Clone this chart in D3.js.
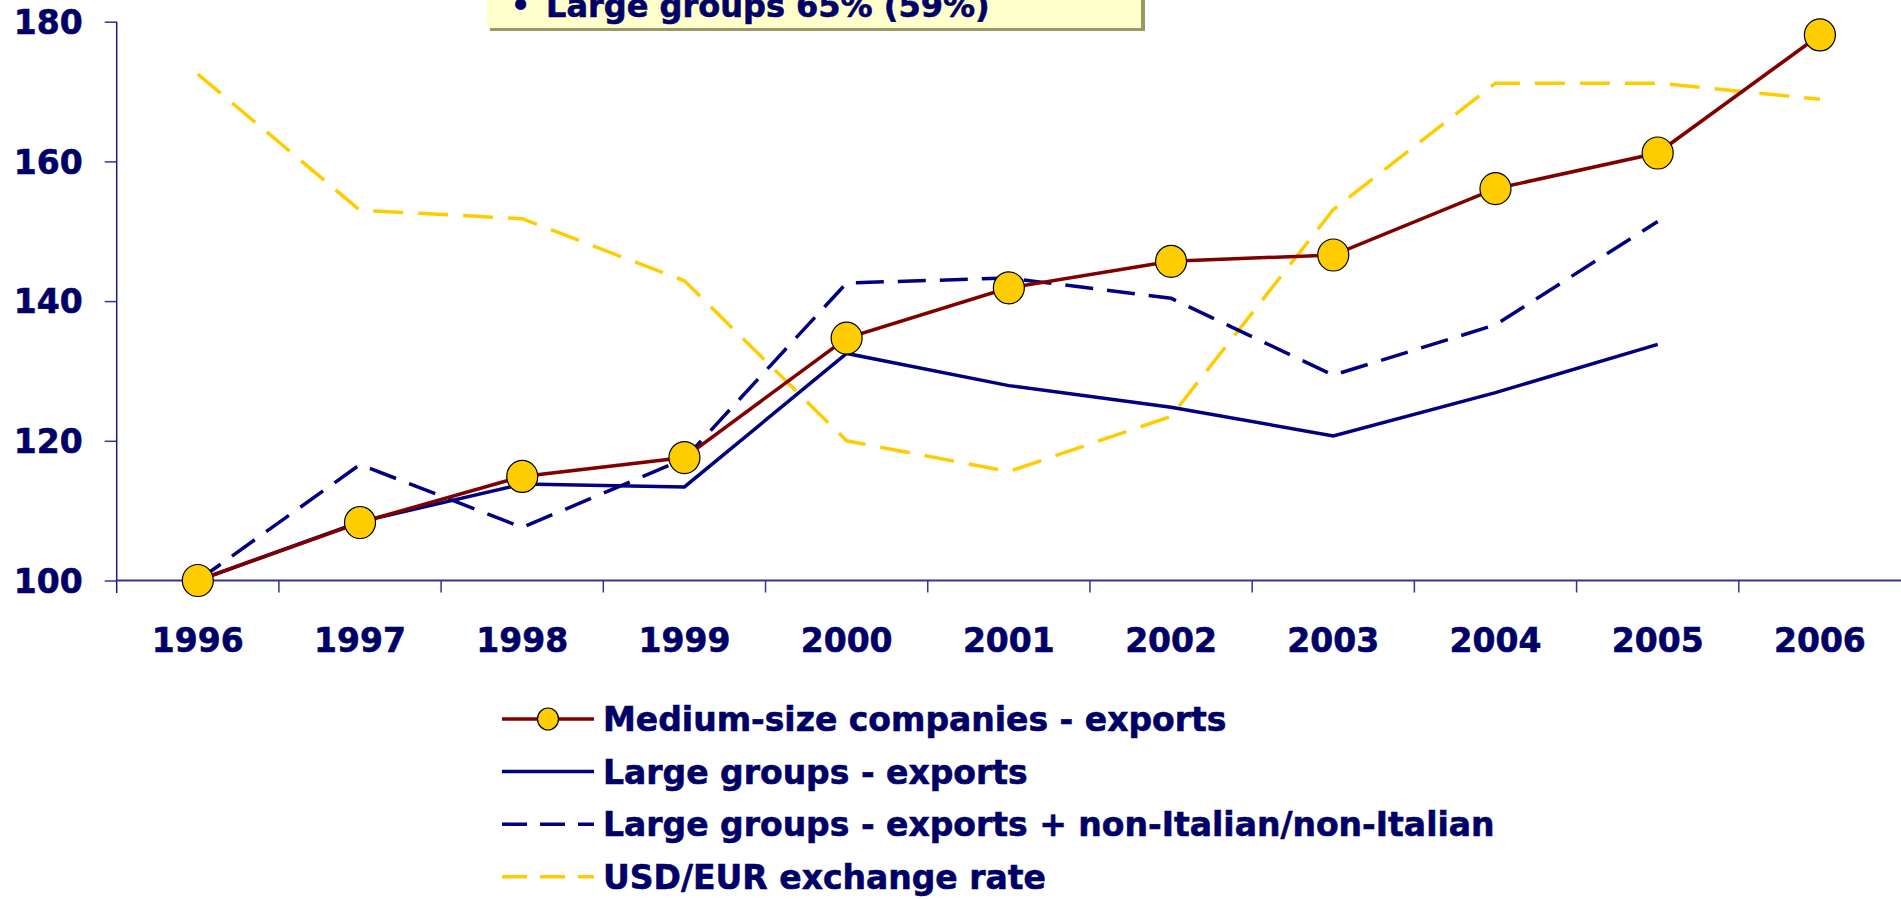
<!DOCTYPE html>
<html>
  <head>
    <meta charset="utf-8">
    <title>Exports index</title>
    <script src="https://cdn.jsdelivr.net/npm/d3@7"></script>
    <style>
      body { margin: 0; background: #fff; overflow: hidden; }
      svg text { font-family: "DejaVu Sans", Verdana, sans-serif; font-weight: bold; fill: #000066; stroke: #000066; stroke-width: 0.6px; }
    </style>
  </head>
  <body>
    <svg id="chart" width="1901" height="899"></svg>

    <script>
      // data
      const years = ["1996", "1997", "1998", "1999", "2000", "2001", "2002", "2003", "2004", "2005", "2006"];
      const medium = [100, 108.3, 114.9, 117.6, 134.7, 141.9, 145.7, 146.6, 156.1, 161.2, 178.1];
      const large = [100, 108.4, 113.8, 113.4, 132.5, 127.9, 124.8, 120.7, 126.9, 133.8];
      const largeNonIt = [100, 116.6, 107.6, 117.4, 142.6, 143.3, 140.4, 129.4, 136.6, 151.4];
      const usdEur = [172.5, 153.0, 151.8, 142.9, 120.0, 115.6, 123.5, 153.1, 171.2, 171.2, 168.9];
      const yTicks = [100, 120, 140, 160, 180];
      const legendLabels = [
        "Medium-size companies - exports",
        "Large groups - exports",
        "Large groups - exports + non-Italian/non-Italian",
        "USD/EUR exchange rate"
      ];
      const noteText = "Large groups 65% (59%)";

      // page elements
      const svg = d3.select("#chart");
      const navy = "#000080", maroon = "#800000", gold = "#ffcc00";

      // scales
      const x = d3.scaleBand().domain(years).range([116.7, 1901]);
      const cx = function(d, i) { return x(years[i]) + x.bandwidth() / 2; };
      const y = d3.scaleLinear().domain([100, 180]).range([580.5, 21.7]);

      // note box cut off at the top
      svg.append("rect")
        .attr("x", 490).attr("y", -60).attr("width", 655).attr("height", 91)
        .attr("fill", "#999966");
      svg.append("rect")
        .attr("x", 487).attr("y", -60).attr("width", 654).attr("height", 88)
        .attr("fill", "#ffffcc");
      svg.append("text")
        .attr("x", 511).attr("y", 16)
        .style("font-size", "30px")
        .text("•");
      svg.append("text")
        .attr("x", 546).attr("y", 17)
        .style("font-size", "32px")
        .text(noteText);

      // y axis
      const yAxis = svg.append("g")
        .attr("transform", "translate(116.7,0)")
        .call(d3.axisLeft(y).tickValues(yTicks).tickSize(12).tickPadding(22));
      yAxis.select(".domain").remove();
      yAxis.append("line")
        .attr("x1", 0).attr("x2", 0).attr("y1", y(180)).attr("y2", 593)
        .attr("stroke", "#1a1a80").attr("stroke-width", 1.5);
      yAxis.selectAll(".tick line").attr("stroke", "#333399").attr("stroke-width", 1.5);
      yAxis.selectAll(".tick text")
        .style("font-size", "33px")
        .attr("dy", "0.36em");

      // x axis
      const xAxis = svg.append("g")
        .attr("transform", "translate(0," + y(100) + ")");
      xAxis.append("line")
        .attr("x1", 116.7).attr("x2", 1901).attr("y1", 0).attr("y2", 0)
        .attr("stroke", "#333399").attr("stroke-width", 2);
      xAxis.selectAll(".xtick")
        .data(years.slice(1))
        .enter().append("line")
          .attr("x1", function(d) { return x(d); })
          .attr("x2", function(d) { return x(d); })
          .attr("y1", 0).attr("y2", 12)
          .attr("stroke", "#333399").attr("stroke-width", 1.5);
      xAxis.selectAll(".xlabel")
        .data(years)
        .enter().append("text")
          .attr("x", cx)
          .attr("y", 71)
          .attr("text-anchor", "middle")
          .style("font-size", "33px")
          .text(function(d) { return d; });

      // lines
      const line = d3.line()
        .x(function(d, i) { return cx(d, i); })
        .y(function(d) { return y(d); });

      svg.append("path")
        .datum(usdEur)
        .attr("d", line)
        .attr("fill", "none").attr("stroke", gold).attr("stroke-width", 3.5)
        .attr("stroke-dasharray", "30 15");
      svg.append("path")
        .datum(largeNonIt)
        .attr("d", line)
        .attr("fill", "none").attr("stroke", navy).attr("stroke-width", 3.5)
        .attr("stroke-dasharray", "28 14");
      svg.append("path")
        .datum(large)
        .attr("d", line)
        .attr("fill", "none").attr("stroke", navy).attr("stroke-width", 3.5);
      svg.append("path")
        .datum(medium)
        .attr("d", line)
        .attr("fill", "none").attr("stroke", maroon).attr("stroke-width", 3.5);
      svg.selectAll(".dot")
        .data(medium)
        .enter().append("ellipse")
          .attr("cx", cx)
          .attr("cy", function(d) { return y(d); })
          .attr("rx", 15.5).attr("ry", 16)
          .attr("fill", gold).attr("stroke", "#000").attr("stroke-width", 1.2);

      // legend
      const legendStyles = [
        { stroke: maroon, dash: null, dot: true },
        { stroke: navy, dash: null, dot: false },
        { stroke: navy, dash: "25 13", dot: false },
        { stroke: gold, dash: "25 13", dot: false }
      ];
      const legend = svg.selectAll(".legend")
        .data(legendLabels)
        .enter().append("g")
          .attr("transform", function(d, i) { return "translate(502," + (719 + i * 52.6) + ")"; });
      legend.append("line")
        .attr("x1", 0).attr("x2", 92).attr("y1", 0).attr("y2", 0)
        .attr("stroke", function(d, i) { return legendStyles[i].stroke; })
        .attr("stroke-width", 3.5)
        .attr("stroke-dasharray", function(d, i) { return legendStyles[i].dash; });
      legend.filter(function(d, i) { return legendStyles[i].dot; })
        .append("ellipse")
          .attr("cx", 46).attr("cy", 0).attr("rx", 10.5).attr("ry", 11)
          .attr("fill", gold).attr("stroke", "#000").attr("stroke-width", 1.2);
      legend.append("text")
        .attr("x", 101)
        .attr("y", 12)
        .style("font-size", "33px")
        .text(function(d) { return d; });
    </script>
  </body>
</html>
